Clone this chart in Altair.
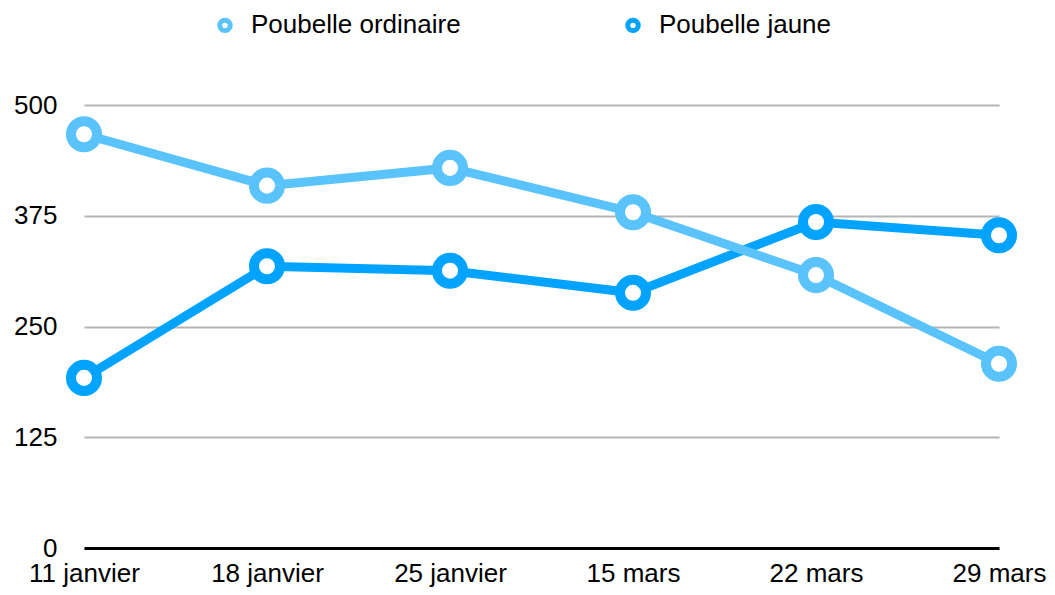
import altair as alt
import pandas as pd

dates = ["11 janvier", "18 janvier", "25 janvier", "15 mars", "22 mars", "29 mars"]
series_names = ["Poubelle ordinaire", "Poubelle jaune"]
ordinaire = [467, 409, 429, 379, 308, 208]
jaune = [192, 318, 313, 288, 368, 353]
y_ticks = [0, 125, 250, 375, 500]

rows = []
for d, v in zip(dates, jaune):
    rows.append({"date": d, "serie": series_names[1], "valeur": v, "ord": 0})
for d, v in zip(dates, ordinaire):
    rows.append({"date": d, "serie": series_names[0], "valeur": v, "ord": 1})
df = pd.DataFrame(rows)

FONT = "Liberation Sans"
FS = 26

color = alt.Color(
    "serie:N",
    scale=alt.Scale(domain=series_names, range=["#5ac3fb", "#00a3ff"]),
    legend=alt.Legend(
        title=None,
        orient="none",
        direction="horizontal",
        legendX=128,
        legendY=-93,
        labelFontSize=FS,
        labelFont=FONT,
        labelColor="#000000",
        labelLimit=400,
        symbolType="circle",
        symbolSize=110,
        symbolStrokeWidth=5,
        symbolFillColor="white",
        labelOffset=13,
        columnPadding=156,
    ),
)

x = alt.X(
    "date:N",
    sort=dates,
    scale=alt.Scale(type="point", padding=0),
    axis=alt.Axis(
        title=None,
        labelAngle=0,
        labelFontSize=FS,
        labelFont=FONT,
        labelColor="#000000",
        ticks=False,
        domainColor="#000000",
        domainWidth=3,
        labelPadding=12,
        grid=False,
    ),
)
y = alt.Y(
    "valeur:Q",
    scale=alt.Scale(domain=[0, 500], nice=False),
    axis=alt.Axis(
        title=None,
        values=y_ticks,
        labelFontSize=FS,
        labelFont=FONT,
        labelColor="#000000",
        ticks=False,
        domain=False,
        gridColor="#b5b5b5",
        gridWidth=2,
        labelPadding=27,
    ),
)

base = alt.Chart(df)
lines = base.mark_line(strokeWidth=9).encode(
    x=x, y=y, color=color, detail="serie:N", order="ord:Q"
)
points = base.mark_point(
    shape="circle", size=680, strokeWidth=10, fill="white", filled=False, opacity=1
).encode(x=x, y=y, color=color, order="ord:Q")

chart = (
    alt.layer(lines, points)
    .properties(
        width=915,
        height=443,
        autosize=alt.AutoSizeParams(type="none"),
        padding={"left": 76, "top": 97, "right": 48, "bottom": 39},
        view=alt.ViewBackground(stroke="transparent", strokeWidth=0),
    )
    .configure_view(strokeWidth=0, stroke="transparent")
    .configure_axisX(grid=False)
    .configure(background="white")
)

chart.save("out.html", embed_options={"renderer": "svg", "actions": False})
